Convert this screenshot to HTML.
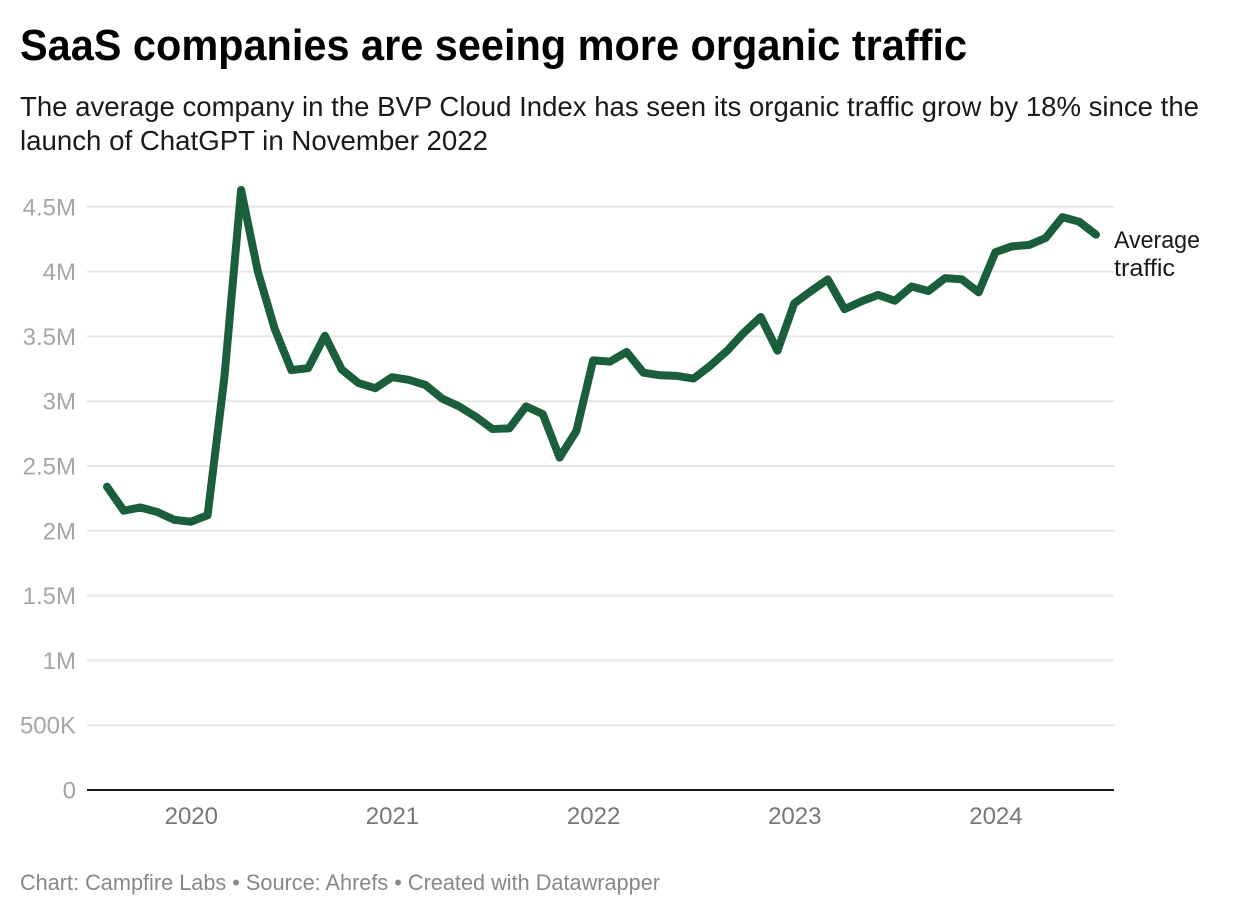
<!DOCTYPE html>
<html lang="en">
<head>
<meta charset="utf-8">
<title>SaaS companies are seeing more organic traffic</title>
<style>
html,body{margin:0;padding:0;background:#fff;width:1240px;height:916px;overflow:hidden}
svg{display:block;font-family:"Liberation Sans",sans-serif}
</style>
</head>
<body>
<svg id="chart" width="1240" height="916" viewBox="0 0 1240 916" xmlns="http://www.w3.org/2000/svg">
  <text x="20" y="60" font-size="44" font-weight="700" fill="#000" textLength="947" lengthAdjust="spacingAndGlyphs">SaaS companies are seeing more organic traffic</text>
  <text x="20" y="116" font-size="27.5" fill="#1a1a1a" textLength="1179" lengthAdjust="spacingAndGlyphs">The average company in the BVP Cloud Index has seen its organic traffic grow by 18% since the</text>
  <text x="20" y="150" font-size="27.5" fill="#1a1a1a" textLength="468" lengthAdjust="spacingAndGlyphs">launch of ChatGPT in November 2022</text>
  <g id="grid"></g>
  <g id="xaxis"></g>
  <g id="series"></g>
  <text x="1114" y="248" font-size="24" fill="#1a1a1a" textLength="86" lengthAdjust="spacingAndGlyphs">Average</text>
  <text x="1114" y="276" font-size="24" fill="#1a1a1a" textLength="61" lengthAdjust="spacingAndGlyphs">traffic</text>
  <text x="20" y="890" font-size="22" fill="#888888" textLength="640" lengthAdjust="spacingAndGlyphs">Chart: Campfire Labs • Source: Ahrefs • Created with Datawrapper</text>
</svg>
<script>
var months = ["2019-08","2019-09","2019-10","2019-11","2019-12","2020-01","2020-02","2020-03","2020-04","2020-05","2020-06","2020-07","2020-08","2020-09","2020-10","2020-11","2020-12","2021-01","2021-02","2021-03","2021-04","2021-05","2021-06","2021-07","2021-08","2021-09","2021-10","2021-11","2021-12","2022-01","2022-02","2022-03","2022-04","2022-05","2022-06","2022-07","2022-08","2022-09","2022-10","2022-11","2022-12","2023-01","2023-02","2023-03","2023-04","2023-05","2023-06","2023-07","2023-08","2023-09","2023-10","2023-11","2023-12","2024-01","2024-02","2024-03","2024-04","2024-05","2024-06","2024-07"];
var averageTraffic = [2.34,2.155,2.18,2.145,2.085,2.07,2.12,3.18,4.63,4.0,3.56,3.24,3.255,3.505,3.245,3.14,3.10,3.185,3.165,3.125,3.02,2.96,2.88,2.785,2.79,2.96,2.90,2.565,2.77,3.315,3.305,3.38,3.22,3.20,3.195,3.175,3.275,3.39,3.53,3.65,3.39,3.755,3.85,3.94,3.71,3.77,3.82,3.775,3.885,3.85,3.95,3.94,3.84,4.15,4.195,4.205,4.26,4.42,4.385,4.285];
var yTickValues = [0.5,1,1.5,2,2.5,3,3.5,4,4.5];
var yTickLabels = ["500K","1M","1.5M","2M","2.5M","3M","3.5M","4M","4.5M"];
var xTickMonths = ["2020-01","2021-01","2022-01","2023-01","2024-01"];
var xTickLabels = ["2020","2021","2022","2023","2024"];

var SVG_NS = "http://www.w3.org/2000/svg";
function yScale(v){ return 790 - v * 129.6; }
function xScale(m){ return 107 + months.indexOf(m) * (989 / (months.length - 1)); }
function make(tag, attrs, parent, text){
  var el = document.createElementNS(SVG_NS, tag);
  for (var k in attrs) el.setAttribute(k, attrs[k]);
  if (text !== undefined) el.textContent = text;
  parent.appendChild(el);
  return el;
}
var grid = document.getElementById("grid");
var xaxis = document.getElementById("xaxis");
var series = document.getElementById("series");

yTickValues.forEach(function(v, i){
  var line = make("line", {x1:87, x2:1114, y1:yScale(v), y2:yScale(v), stroke:"#e6e6e6", "stroke-width":2}, grid);
  
  
  var label = make("text", {x:76, y:yScale(v)+8.5, "text-anchor":"end", "font-size":24, fill:"#a6a6a6"}, grid, yTickLabels[i]);
  
  
});

var zeroLabel = make("text", {x:76, y:yScale(0)+8.5, "text-anchor":"end", "font-size":24, fill:"#a6a6a6"}, xaxis, "0");


var baseline = make("line", {x1:87, x2:1114, y1:yScale(0), y2:yScale(0), stroke:"#1a1a1a", "stroke-width":2}, xaxis);



xTickMonths.forEach(function(m, i){
  var label = make("text", {x:xScale(m)+0.5, y:824, "text-anchor":"middle", "font-size":24, fill:"#777777"}, xaxis, xTickLabels[i]);
  
  
});

var points = months.map(function(m, i){
  return xScale(m).toFixed(2) + "," + yScale(averageTraffic[i]).toFixed(2);
}).join(" ");
var trace = make("polyline", {points:points, fill:"none", stroke:"#1b5e3b", "stroke-width":8, "stroke-linejoin":"round", "stroke-linecap":"round"}, series);


</script>
</body>
</html>
